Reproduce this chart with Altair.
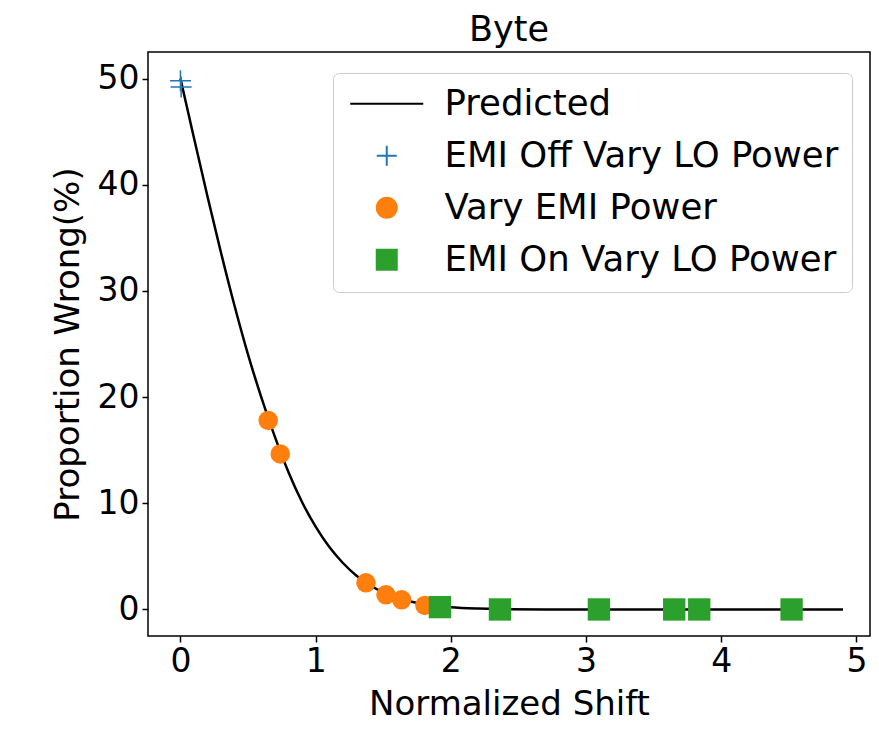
import altair as alt
import pandas as pd

# Predicted curve
pred_x = [0.0, 0.1, 0.2, 0.3, 0.4, 0.5, 0.6, 0.7, 0.8, 0.9, 1.0, 1.1, 1.2, 1.3, 1.4,
          1.5, 1.6, 1.7, 1.8, 1.9, 2.0, 2.2, 2.4, 2.7, 3.0, 3.5, 4.0, 4.5, 4.9]
pred_y = [50.0, 44.4, 38.9, 33.6, 28.6, 24.0, 19.9, 16.2, 12.9, 10.1, 7.8, 5.9, 4.4, 3.2, 2.3,
          1.6, 1.1, 0.75, 0.5, 0.32, 0.2, 0.08, 0.03, 0.0, 0.0, 0.0, 0.0, 0.0, 0.0]

off_x = [0.0, 0.005]
off_y = [49.8, 49.2]

emi_x = [0.649, 0.738, 1.372, 1.52, 1.636, 1.808]
emi_y = [17.8, 14.65, 2.51, 1.38, 0.91, 0.38]

on_x = [1.919, 2.363, 3.095, 3.652, 3.837, 4.52]
on_y = [0.22, 0.0, 0.0, 0.0, 0.0, 0.0]

series = ["Predicted", "EMI Off Vary LO Power", "Vary EMI Power", "EMI On Vary LO Power"]
colors = ["#000000", "#1f77b4", "#ff7f0e", "#2ca02c"]
fills = ["transparent", "transparent", "#ff7f0e", "#2ca02c"]
shapes = ["M-3.65,0H3.65", "M-1,0H1M0,-1V1", "circle", "square"]

pred = pd.DataFrame({"x": pred_x, "y": pred_y, "s": series[0]})
off = pd.DataFrame({"x": off_x, "y": off_y, "s": series[1]})
emi = pd.DataFrame({"x": emi_x, "y": emi_y, "s": series[2]})
on = pd.DataFrame({"x": on_x, "y": on_y, "s": series[3]})

FONT = "DejaVu Sans"
FS = 34

xenc = alt.X("x:Q", scale=alt.Scale(domain=[-0.24, 5.10], nice=False, zero=False),
             axis=alt.Axis(values=[0, 1, 2, 3, 4, 5], title="Normalized Shift", format="d"))
yenc = alt.Y("y:Q", scale=alt.Scale(domain=[-2.5, 52.5], nice=False, zero=False),
             axis=alt.Axis(values=[0, 10, 20, 30, 40, 50], title="Proportion Wrong(%)", format="d"))

legend = alt.Legend(
    title=None, orient="none", legendX=185, legendY=21,
    labelFontSize=35.5, labelFont=FONT, labelColor="#000000", labelLimit=0,
    symbolSize=400, symbolStrokeWidth=2, symbolOffset=23, labelOffset=40,
    rowPadding=15, padding=13, fillColor="#ffffff", strokeColor="#cccccc",
    cornerRadius=6, symbolOpacity=1,
)
stroke = alt.Stroke("s:N", scale=alt.Scale(domain=series, range=colors), legend=legend)
fill = alt.Fill("s:N", scale=alt.Scale(domain=series, range=fills), legend=legend)
shape = alt.Shape("s:N", scale=alt.Scale(domain=series, range=shapes), legend=legend)

line = alt.Chart(pred).mark_line(strokeWidth=2.5, interpolate="monotone").encode(
    x=xenc, y=yenc, stroke=stroke)
p_off = alt.Chart(off).mark_point(filled=False, size=441, strokeWidth=1.5, opacity=1).encode(
    x=xenc, y=yenc, stroke=stroke, fill=fill, shape=shape)
p_emi = alt.Chart(emi).mark_point(filled=True, size=380, opacity=1, strokeWidth=0).encode(
    x=xenc, y=yenc, stroke=stroke, fill=fill, shape=shape)
p_on = alt.Chart(on).mark_point(filled=True, size=500, opacity=1, strokeWidth=0).encode(
    x=xenc, y=yenc, stroke=stroke, fill=fill, shape=shape)

chart = alt.layer(line, p_off, p_emi, p_on).properties(
    width=722, height=584,
    title=alt.TitleParams("Byte", fontSize=35, font=FONT, fontWeight="normal", color="#000000", offset=4),
    autosize=alt.AutoSizeParams(type="none"),
    padding={"left": 140, "top": 44, "right": 1, "bottom": 87},
).configure_view(
    stroke="#000000", strokeWidth=1.5
).configure_axis(
    labelFont=FONT, labelFontSize=33, labelColor="#000000",
    titleFont=FONT, titleFontSize=FS, titleColor="#000000", titleFontWeight="normal",
    tickColor="#000000", tickSize=6, tickWidth=1.5, domain=False, grid=False,
    labelPadding=3,
).configure_axisX(titlePadding=9).configure_axisY(titlePadding=12)

chart.save("out.html", embed_options={"renderer": "svg", "actions": False})
